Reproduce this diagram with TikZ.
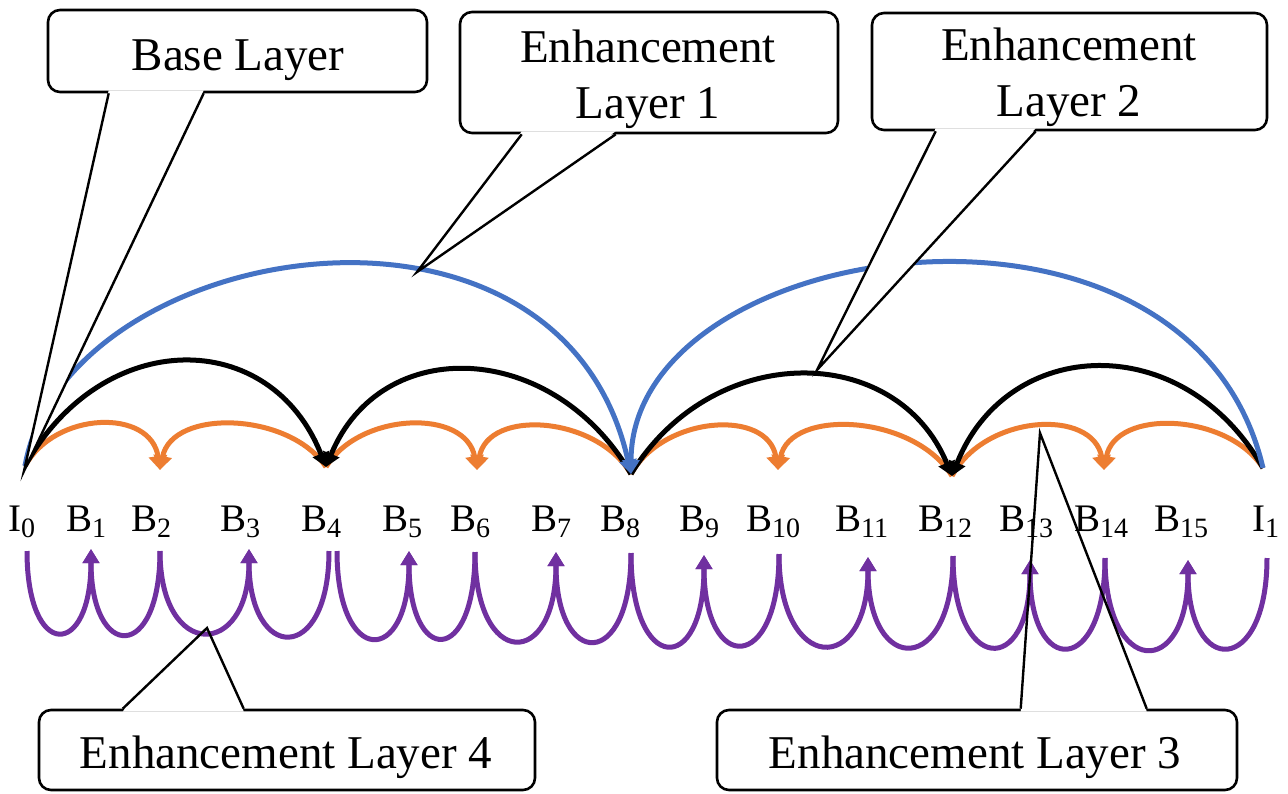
\documentclass[tikz,border=0pt]{standalone}
\usepackage{fontspec}
\setmainfont{Liberation Serif}
\usetikzlibrary{arrows.meta,calc}
\definecolor{eblue}{HTML}{4472C4}
\definecolor{eorange}{HTML}{ED7D31}
\definecolor{epurple}{HTML}{7030A0}
\newcommand{\lsub}[1]{\raisebox{-6pt}{\fontsize{28}{28}\selectfont #1}}
\begin{document}
\begin{tikzpicture}[x=1pt,y=-1pt,line join=round,
  lab/.style={inner sep=0pt,font=\fontsize{39}{39}\selectfont},
  ctext/.style={inner sep=0pt,align=center,font=\fontsize{47}{56}\selectfont},
  callout/.style={draw,line width=2.6pt,rounded corners=12pt,fill=white,inner sep=0pt},
  tailline/.style={line width=2.4pt,line join=miter},
  orng/.style={line width=5pt,draw=eorange,-{Triangle[width=18pt,length=14pt]}},
  blk/.style={line width=5pt,draw=black,-{Triangle[width=17pt,length=14pt]}},
  blu/.style={line width=5pt,draw=eblue,-{Triangle[width=17pt,length=14pt]}},
  purp/.style={line width=5pt,draw=epurple,-{Triangle[width=16pt,length=14pt]}}]
\useasboundingbox (0,0) rectangle (1288,793);
\fill[white] (0,0) rectangle (1288,793);
% top anchors
\coordinate (t0) at (25,466);
\coordinate (t2) at (160,470);
\coordinate (t4) at (326,467);
\coordinate (t6) at (477,470);
\coordinate (t8) at (631,474);
\coordinate (t10) at (778,470);
\coordinate (t12) at (952,476);
\coordinate (t14) at (1104,470);
\coordinate (t16) at (1263,468);
% bottom anchors
\coordinate (p0) at (27,551);
\coordinate (p1) at (91,549);
\coordinate (p2) at (160,551);
\coordinate (p3) at (249,549);
\coordinate (p4a) at (329,551);
\coordinate (p4b) at (337,551);
\coordinate (p5) at (409,551);
\coordinate (p6) at (475,552);
\coordinate (p7) at (556,552);
\coordinate (p8) at (631,553);
\coordinate (p9) at (704,555);
\coordinate (p10) at (779,554);
\coordinate (p11) at (868,557);
\coordinate (p12) at (953,556);
\coordinate (p13) at (1030,560);
\coordinate (p14) at (1105,558);
\coordinate (p15) at (1188,560);
\coordinate (p16) at (1267,558);
% purple (enhancement layer 4)
\draw[purp] (p0) .. controls ($(p0)+(0,110)$) and ($(p1)+(0,110)$) .. (p1);
\draw[purp] (p2) .. controls ($(p2)+(0,112)$) and ($(p1)+(0,112)$) .. (p1);
\draw[purp] (p2) .. controls ($(p2)+(0,110)$) and ($(p3)+(0,110)$) .. (p3);
\draw[purp] (p4a) .. controls ($(p4a)+(0,114)$) and ($(p3)+(0,114)$) .. (p3);
\draw[purp] (p4b) .. controls ($(p4b)+(0,116)$) and ($(p5)+(0,116)$) .. (p5);
\draw[purp] (p6) .. controls ($(p6)+(0,115)$) and ($(p5)+(0,115)$) .. (p5);
\draw[purp] (p6) .. controls ($(p6)+(0,118)$) and ($(p7)+(0,118)$) .. (p7);
\draw[purp] (p8) .. controls ($(p8)+(0,118)$) and ($(p7)+(0,118)$) .. (p7);
\draw[purp] (p8) .. controls ($(p8)+(0,122)$) and ($(p9)+(0,122)$) .. (p9);
\draw[purp] (p10) .. controls ($(p10)+(0,120)$) and ($(p9)+(0,120)$) .. (p9);
\draw[purp] (p10) .. controls ($(p10)+(0,120)$) and ($(p11)+(0,120)$) .. (p11);
\draw[purp] (p12) .. controls ($(p12)+(0,120)$) and ($(p11)+(0,120)$) .. (p11);
\draw[purp] (p12) .. controls ($(p12)+(0,118)$) and ($(p13)+(0,118)$) .. (p13);
\draw[purp] (p14) .. controls ($(p14)+(0,118)$) and ($(p13)+(0,118)$) .. (p13);
\draw[purp] (p14) .. controls ($(p14)+(0,120)$) and ($(p15)+(0,120)$) .. (p15);
\draw[purp] (p16) .. controls ($(p16)+(0,118)$) and ($(p15)+(0,118)$) .. (p15);
% orange (enhancement layer 3)
\draw[orng] (t0) .. controls ($(t0)+(30,-55)$) and ($(t2)+(-9,-62)$) .. (t2);
\draw[orng] (t4) .. controls ($(t4)+(-36,-55)$) and ($(t2)+(12,-62)$) .. (t2);
\draw[orng] (t4) .. controls ($(t4)+(33,-55)$) and ($(t6)+(-11,-62)$) .. (t6);
\draw[orng] (t8) .. controls ($(t8)+(-34,-58)$) and ($(t6)+(11,-62)$) .. (t6);
\draw[orng] (t8) .. controls ($(t8)+(32,-58)$) and ($(t10)+(-10,-62)$) .. (t10);
\draw[orng] (t12) .. controls ($(t12)+(-38,-62)$) and ($(t10)+(12,-62)$) .. (t10);
\draw[orng] (t12) .. controls ($(t12)+(33,-62)$) and ($(t14)+(-11,-62)$) .. (t14);
\draw[orng] (t16) .. controls ($(t16)+(-35,-55)$) and ($(t14)+(11,-62)$) .. (t14);
% black (enhancement layer 2)
\draw[blk] (t0) .. controls ($(t0)+(78,-140)$) and ($(t4)+(-55,-140)$) .. (t4);
\draw[blk] (t8) .. controls ($(t8)+(-78,-134)$) and ($(t4)+(55,-134)$) .. (t4);
\draw[blk] (t8) .. controls ($(t8)+(82,-134)$) and ($(t12)+(-55,-134)$) .. (t12);
\draw[blk] (t16) .. controls ($(t16)+(-80,-140)$) and ($(t12)+(55,-140)$) .. (t12);
% blue (enhancement layer 1)
\draw[blu] (t0) .. controls ($(t0)+(40,-226)$) and ($(t8)+(-71,-319)$) .. (t8);
\draw[blu] (t16) .. controls ($(t16)+(-73,-313)$) and ($(t8)+(0,-239)$) .. (t8);
% frame labels
\node[lab,anchor=base west] (l0) at (8,531) {I\lsub{0}};
\node[lab,anchor=base west] (l1) at (66,531) {B\lsub{1}};
\node[lab,anchor=base west] (l2) at (131,531) {B\lsub{2}};
\node[lab,anchor=base west] (l3) at (220,531) {B\lsub{3}};
\node[lab,anchor=base west] (l4) at (301,531) {B\lsub{4}};
\node[lab,anchor=base west] (l5) at (382,531) {B\lsub{5}};
\node[lab,anchor=base west] (l6) at (450,531) {B\lsub{6}};
\node[lab,anchor=base west] (l7) at (531,531) {B\lsub{7}};
\node[lab,anchor=base west] (l8) at (600,531) {B\lsub{8}};
\node[lab,anchor=base west] (l9) at (679,531) {B\lsub{9}};
\node[lab,anchor=base west] (l10) at (746,531) {B\lsub{10}};
\node[lab,anchor=base west] (l11) at (835,531) {B\lsub{11}};
\node[lab,anchor=base west] (l12) at (918,531) {B\lsub{12}};
\node[lab,anchor=base west] (l13) at (999,531) {B\lsub{13}};
\node[lab,anchor=base west] (l14) at (1074,531) {B\lsub{14}};
\node[lab,anchor=base west] (l15) at (1154,531) {B\lsub{15}};
\node[lab,anchor=base west] (l16) at (1252,531) {I\lsub{1}};
% callout apexes
\coordinate (aBase) at (24,471);
\coordinate (aE1) at (417,272);
\coordinate (aE2) at (817,370);
\coordinate (aE4) at (207,628);
\coordinate (aE3) at (1040,433);
% Base Layer callout
\node[callout,minimum width=379pt,minimum height=82pt] (base) at (237.5,51) {};
\fill[white] ($(base.south west)+(62,-3)$) -- (aBase) -- ($(base.south west)+(157,-3)$) -- cycle;
\draw[tailline] ($(base.south west)+(62,0)$) -- (aBase) -- ($(base.south west)+(157,0)$);
\node[ctext,anchor=base] (baseT) at (238,70) {Base Layer};
% Enhancement Layer 1 callout
\node[callout,minimum width=378pt,minimum height=121pt] (el1) at (649,72.5) {};
\fill[white] ($(el1.south west)+(63,-3)$) -- (aE1) -- ($(el1.south west)+(157,-3)$) -- cycle;
\draw[tailline] ($(el1.south west)+(63,0)$) -- (aE1) -- ($(el1.south west)+(157,0)$);
\node[ctext] (el1T) at (648,79) {Enhancement\\Layer 1};
% Enhancement Layer 2 callout
\node[callout,minimum width=395pt,minimum height=117pt] (el2) at (1069.5,71.5) {};
\fill[white] ($(el2.south west)+(65,-3)$) -- (aE2) -- ($(el2.south west)+(165,-3)$) -- cycle;
\draw[tailline] ($(el2.south west)+(65,0)$) -- (aE2) -- ($(el2.south west)+(165,0)$);
\node[ctext] (el2T) at (1069,77) {Enhancement\\Layer 2};
% Enhancement Layer 4 callout
\node[callout,minimum width=496pt,minimum height=80pt] (el4) at (287,750) {};
\coordinate (e4a) at ($(el4.north west)+(85,0)$);
\coordinate (e4b) at ($(el4.north west)+(206,0)$);
\fill[white] ($(e4a)+(0,3)$) -- ($(e4a)!0.07!(aE4)$) -- ($(e4b)!0.07!(aE4)$) -- ($(e4b)+(0,3)$) -- cycle;
\draw[tailline] (e4a) -- (aE4) -- (e4b);
\node[ctext,anchor=base] (el4T) at (286,768) {Enhancement Layer 4};
% Enhancement Layer 3 callout
\node[callout,minimum width=520pt,minimum height=80pt] (el3) at (977,750) {};
\coordinate (e3a) at ($(el3.north west)+(305,0)$);
\coordinate (e3b) at ($(el3.north west)+(431,0)$);
\fill[white] ($(e3a)+(0,3)$) -- ($(e3a)!0.03!(aE3)$) -- ($(e3b)!0.03!(aE3)$) -- ($(e3b)+(0,3)$) -- cycle;
\draw[tailline] (e3a) -- (aE3) -- (e3b);
\node[ctext,anchor=base] (el3T) at (975,768) {Enhancement Layer 3};
\end{tikzpicture}
\end{document}
